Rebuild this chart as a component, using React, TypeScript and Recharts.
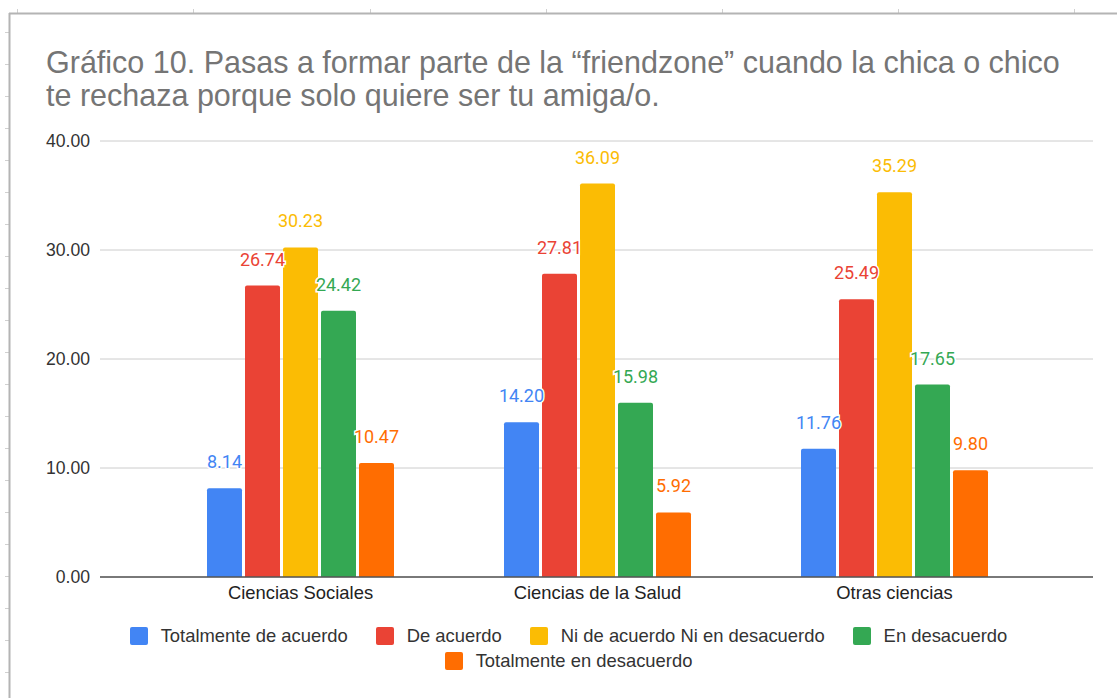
import React from "react";
import {
  BarChart,
  Bar,
  XAxis,
  YAxis,
  CartesianGrid,
  LabelList,
  ReferenceLine,
} from "recharts";

const categories = ["Ciencias Sociales", "Ciencias de la Salud", "Otras ciencias"];
const totalmenteDeAcuerdo = [8.14, 14.2, 11.76];
const deAcuerdo = [26.74, 27.81, 25.49];
const niNi = [30.23, 36.09, 35.29];
const enDesacuerdo = [24.42, 15.98, 17.65];
const totalmenteEnDesacuerdo = [10.47, 5.92, 9.8];
const yTicks = [0, 10, 20, 30, 40];

const series = [
  { key: "s1", name: "Totalmente de acuerdo", color: "#4285f4", values: totalmenteDeAcuerdo },
  { key: "s2", name: "De acuerdo", color: "#ea4335", values: deAcuerdo },
  { key: "s3", name: "Ni de acuerdo Ni en desacuerdo", color: "#fbbc04", values: niNi },
  { key: "s4", name: "En desacuerdo", color: "#34a853", values: enDesacuerdo },
  { key: "s5", name: "Totalmente en desacuerdo", color: "#ff6d01", values: totalmenteEnDesacuerdo },
];

const data = categories.map((c, i) => {
  const row: Record<string, any> = { name: c };
  series.forEach((s) => (row[s.key] = s.values[i]));
  return row;
});

const FONT = "Arial, 'Liberation Sans', sans-serif";
const LABEL_FONT = "Roboto, Arial, sans-serif";
const W = 1117;
const H = 698;

export default function App() {
  return (
    <div
      style={{
        position: "absolute",
        left: 0,
        top: 0,
        width: W,
        height: H,
        background: "#fff",
        fontFamily: FONT,
        overflow: "hidden",
      }}
    >
      {/* spreadsheet frame */}
      <svg width={W} height={H} style={{ position: "absolute", left: 0, top: 0 }}>
        {[17, 193, 370, 546, 722, 898, 1074].map((x) => (
          <line key={"tx" + x} x1={x + 0.5} x2={x + 0.5} y1={9} y2={13} stroke="#d0d0d0" />
        ))}
        {[32, 64, 96, 128, 160, 192, 224, 256, 288, 320, 352, 384, 416, 448, 480, 512, 544, 576, 608, 640, 672].map((y) => (
          <line key={"ty" + y} x1={5} x2={9} y1={y + 0.5} y2={y + 0.5} stroke="#d0d0d0" />
        ))}
        <line x1={9.5} x2={9.5} y1={13} y2={H} stroke="#b4b4b4" strokeWidth={2} />
        <line x1={9} x2={W} y1={13.5} y2={13.5} stroke="#b4b4b4" strokeWidth={2} />
      </svg>

      <div
        style={{
          position: "absolute",
          left: 46,
          top: 46,
          fontSize: 30.5,
          lineHeight: "33px",
          color: "#757575",
          fontFamily: FONT,
          whiteSpace: "nowrap",
        }}
      >
        Gráfico 10. Pasas a formar parte de la “friendzone” cuando la chica o chico
        <br />
        te rechaza porque solo quiere ser tu amiga/o.
      </div>

      <div style={{ position: "absolute", left: 0, top: 0 }}>
        <BarChart
          width={W}
          height={H}
          data={data}
          margin={{ top: 141, right: 24, left: 0, bottom: 91 }}
          barSize={35}
          barGap={3}
        >
          <CartesianGrid vertical={false} stroke="#cccccc" />
          <XAxis
            dataKey="name"
            padding={{ left: 52, right: 50 }}
            axisLine={false}
            tickLine={false}
            tickMargin={3}
            tick={{ fontSize: 18.4, fill: "#222", fontFamily: FONT }}
          />
          <YAxis
            width={100}
            domain={[0, 40]}
            ticks={yTicks}
            axisLine={false}
            tickLine={false}
            tickMargin={4}
            tickFormatter={(v) => Number(v).toFixed(2)}
            tick={{ fontSize: 17.6, fill: "#333", fontFamily: FONT }}
          />
          {series.map((s) => (
            <Bar
              key={s.key}
              dataKey={s.key}
              name={s.name}
              fill={s.color}
              radius={[2, 2, 0, 0]}
              isAnimationActive={false}
            >
              <LabelList
                dataKey={s.key}
                position="top"
                offset={20}
                formatter={(v: any) => Number(v).toFixed(2)}
                style={{
                  fontSize: 18,
                  fill: s.color,
                  fontFamily: LABEL_FONT,
                  stroke: "#fff",
                  strokeWidth: 3,
                  paintOrder: "stroke",
                }}
              />
            </Bar>
          ))}
          <ReferenceLine y={0} stroke="#555" strokeWidth={1.5} />
        </BarChart>
      </div>

      {/* legend */}
      <div
        style={{
          position: "absolute",
          left: 111,
          top: 626,
          width: 915,
          display: "flex",
          flexWrap: "wrap",
          justifyContent: "center",
          rowGap: 5,
          fontSize: 18.4,
          color: "#333",
          fontFamily: FONT,
        }}
      >
        {series.map((s) => (
          <div key={s.key} style={{ display: "flex", alignItems: "center", margin: "0 14px", height: 20 }}>
            <span
              style={{
                width: 18,
                height: 18,
                borderRadius: 2,
                background: s.color,
                marginRight: 13,
                display: "inline-block",
              }}
            />
            <span>{s.name}</span>
          </div>
        ))}
      </div>
    </div>
  );
}
